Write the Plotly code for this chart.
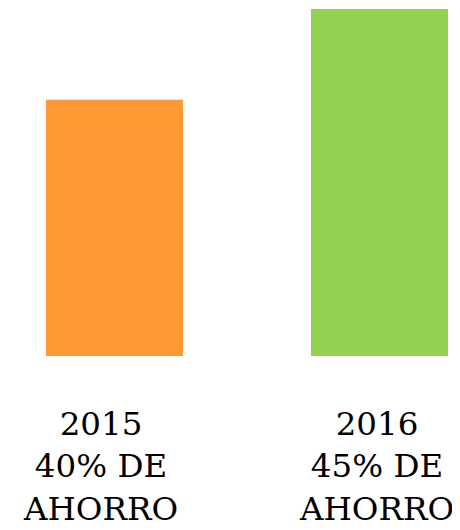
import plotly.graph_objects as go

categories = ["2015", "2016"]
savings = [40, 45]
labels = ["2015<br>40% DE<br>AHORRO", "2016<br>45% DE<br>AHORRO"]
colors = ["#FF9933", "#92D050"]

fig = go.Figure()
fig.add_trace(go.Bar(
    x=categories, y=savings, marker=dict(color=colors, line=dict(width=0)),
    width=0.517, hoverinfo="skip"))

label_shifts = [-14.5, -2.5]
for i, (lab, sh) in enumerate(zip(labels, label_shifts)):
    fig.add_annotation(
        x=i, xref="x", y=0, yref="paper", yanchor="top", xanchor="center",
        text=lab, showarrow=False, xshift=sh, yshift=-47,
        font=dict(family="DejaVu Serif", size=32.5, color="#000000"))

fig.update_layout(
    width=460, height=530,
    margin=dict(l=0, r=0, t=0, b=181.5),
    paper_bgcolor="white", plot_bgcolor="white",
    showlegend=False,
    xaxis=dict(type="category", range=[-0.4019, 1.334], showticklabels=False,
               showgrid=False, zeroline=False, showline=False, ticks=""),
    yaxis=dict(range=[25.907, 45.055], showticklabels=False, showgrid=False,
               zeroline=False, showline=False, ticks=""),
)

fig.write_html("out.html")
